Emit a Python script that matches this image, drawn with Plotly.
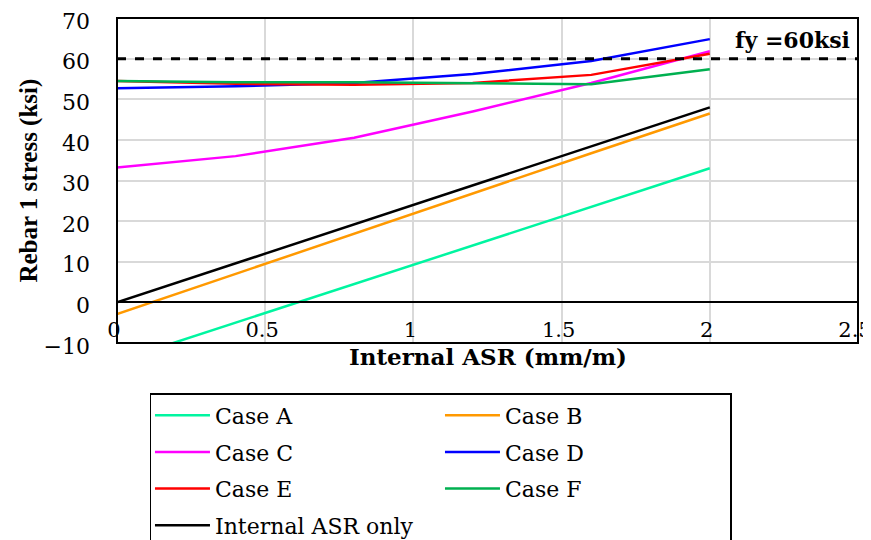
import plotly.graph_objects as go

# ---- data ----
asr = [0, 0.4, 0.8, 1.2, 1.6, 2.0]
case_a = [-14.5, -5.0, 4.5, 14.0, 23.5, 33.0]
case_b = [-2.9, 7.0, 17.0, 26.8, 36.7, 46.5]
case_c = [33.2, 36.0, 40.5, 47.0, 54.0, 61.8]
case_d = [52.7, 53.2, 54.0, 56.2, 59.4, 64.8]
case_e = [54.5, 53.8, 53.6, 54.0, 56.0, 61.2]
case_f = [54.5, 54.2, 54.2, 54.0, 53.7, 57.4]
internal_only = [0.0, 9.6, 19.2, 28.8, 38.4, 48.0]
fy_x = [0, 2.5]
fy_y = [60, 60]

series = [
    ("Case A", case_a, "#00F5A0"),
    ("Case B", case_b, "#FF9900"),
    ("Case C", case_c, "#FF00FF"),
    ("Case D", case_d, "#0000FF"),
    ("Case E", case_e, "#FF0000"),
    ("Case F", case_f, "#00B050"),
    ("Internal ASR only", internal_only, "#000000"),
]

FONT = "DejaVu Serif"
TFONT = "Liberation Serif"

fig = go.Figure()
for name, vals, col in series:
    fig.add_trace(go.Scatter(x=asr, y=vals, mode="lines", name=name,
                             legendgroup=name,
                             line=dict(color=col, width=2.5)))
fig.add_trace(go.Scatter(x=fy_x, y=fy_y, mode="lines", showlegend=False,
                         line=dict(color="black", width=3, dash="dash")))

fig.update_layout(
    width=871, height=540,
    margin=dict(l=109, r=21, t=10, b=205, autoexpand=False),
    plot_bgcolor="white", paper_bgcolor="white",
    font=dict(family=FONT, size=20, color="black"),
    xaxis=dict(range=[0, 2.5], dtick=0.5, tick0=0, showgrid=True,
               gridcolor="#D9D9D9", gridwidth=1.5, zeroline=False,
               anchor="free", position=0.125, showline=True,
               linecolor="black", linewidth=2, ticks="",
               ticklabelstandoff=8, ticklabelshift=-3,
               ticklabeloverflow="allow",
               tickfont=dict(family=FONT, size=21)),
    yaxis=dict(range=[-10, 70], dtick=10, showgrid=True,
               gridcolor="#D9D9D9", gridwidth=1.5, zeroline=False,
               showline=False, ticks="", ticklabelstandoff=26,
               ticklabelshift=3, ticklabeloverflow="allow",
               tickfont=dict(family=FONT, size=22)),
    legend=dict(orientation="h", x=0.0445, y=-0.154, xanchor="left",
                yanchor="top", entrywidth=220, entrywidthmode="pixels",
                itemwidth=55, bordercolor="black", borderwidth=1.5,
                traceorder="grouped", tracegroupgap=5,
                font=dict(family=FONT, size=22)),
    shapes=[dict(type="rect", xref="paper", yref="paper", x0=0, x1=1,
                 y0=0, y1=1, line=dict(color="black", width=2), layer="above")],
    annotations=[
        dict(text="<b>Internal ASR (mm/m)</b>", xref="paper", yref="paper",
             x=0.5, y=-0.043, xanchor="center", yanchor="middle",
             showarrow=False, font=dict(family=FONT, size=23)),
        dict(text="<b>Rebar 1 stress (ksi)</b>", xref="paper", yref="paper",
             x=-0.12, y=0.5, xanchor="center", yanchor="middle",
             textangle=-90, showarrow=False, font=dict(family=TFONT, size=25)),
        dict(text="<b>fy =60ksi</b>", xref="paper", yref="y",
             x=0.992, y=64.6, xanchor="right", yanchor="middle",
             showarrow=False, font=dict(family=FONT, size=22)),
    ],
)

fig.write_html("out.html")
